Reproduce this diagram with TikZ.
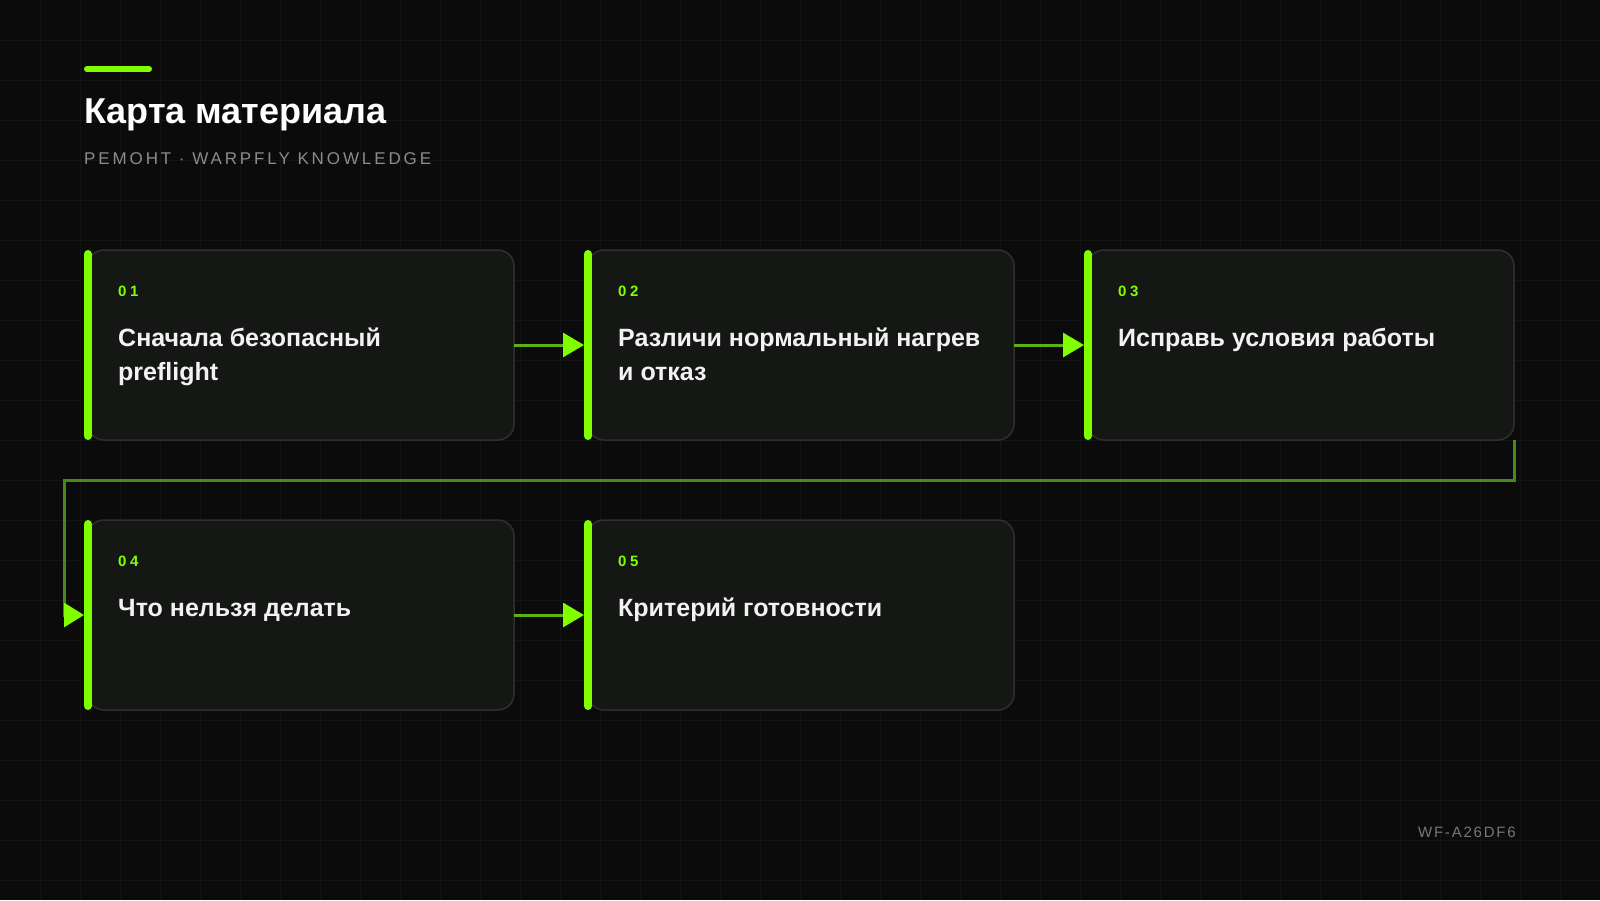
\documentclass[tikz,border=0pt]{standalone}
\usepackage{fontspec}
\setmainfont{Liberation Sans}
\newfontfamily\subfont[LetterSpace=17]{Liberation Sans}
\newfontfamily\numfont[LetterSpace=24]{Liberation Sans}
\newfontfamily\codefont[LetterSpace=12]{Liberation Sans}
\usetikzlibrary{arrows.meta}
\definecolor{bgc}{HTML}{0A0B0A}
\definecolor{gridc}{HTML}{121512}
\definecolor{boxfill}{HTML}{151715}
\definecolor{boxline}{HTML}{2D302D}
\definecolor{accent}{HTML}{80FF00}
\definecolor{flowc}{HTML}{5FB012}
\definecolor{loopc}{HTML}{4A8A14}
\definecolor{subc}{HTML}{8C8C8C}
\definecolor{txt}{HTML}{F2F2F2}
\tikzset{
  stepbox/.style={draw=boxline, line width=1.5pt, fill=boxfill, rounded corners=16pt,
    minimum width=426pt, minimum height=190pt, anchor=north west, inner sep=0pt, outer sep=0pt},
  accentbar/.style={draw=accent, line width=8pt, line cap=round},
  numlabel/.style={anchor=base west, inner sep=0pt, text=accent, font=\numfont\bfseries\fontsize{15}{18}\selectfont},
  steplabel/.style={anchor=base west, inner sep=0pt, text=txt, align=left, font=\bfseries\fontsize{25}{34}\selectfont},
  flow/.style={draw=flowc, line width=3pt, -{Triangle[length=21pt,width=24pt,color=accent]}},
  loopline/.style={draw=loopc, line width=3pt},
  looptip/.style={draw=loopc, line width=3pt, -{Triangle[length=20pt,width=24pt,color=accent]}},
}
\begin{document}
\begin{tikzpicture}[x=1pt,y=-1pt]
\fill[bgc] (0,0) rectangle (1600,900);
\useasboundingbox (0,0) rectangle (1600,900);
\foreach \gx in {40,80,...,1560} \draw[gridc, line width=1pt] (\gx,0) -- (\gx,900);
\foreach \gy in {40,80,...,880} \draw[gridc, line width=1pt] (0,\gy) -- (1600,\gy);

% header
\draw[accent, line width=6pt, line cap=round] (87,69) -- (149,69);
\node[anchor=base west, inner sep=0pt, text=white, font=\bfseries\fontsize{36}{40}\selectfont] (title) at (84,123) {Карта материала};
\node[anchor=base west, inner sep=0pt, text=subc, font=\subfont\fontsize{17}{20}\selectfont] (subtitle) at (84,164) {РЕМОНТ · WARPFLY KNOWLEDGE};
\node[anchor=base east, inner sep=0pt, text=subc!85!black, font=\codefont\fontsize{15}{18}\selectfont] (code) at (1516,837) {WF-A26DF6};

% boxes
\node[stepbox] (b1) at (88,250) {};
\node[stepbox] (b2) at (588,250) {};
\node[stepbox] (b3) at (1088,250) {};
\node[stepbox] (b4) at (88,520) {};
\node[stepbox] (b5) at (588,520) {};

\foreach \b in {b1,b2,b3,b4,b5}
  \draw[accentbar] ([yshift=-4pt]\b.north west) -- ([yshift=4pt]\b.south west);

\node[numlabel] (n1) at (118,296) {01};
\node[numlabel] (n2) at (618,296) {02};
\node[numlabel] (n3) at (1118,296) {03};
\node[numlabel] (n4) at (118,566) {04};
\node[numlabel] (n5) at (618,566) {05};

% two-line labels: base anchor is the last line's baseline
\node[steplabel] (t1) at (118,380) {Сначала безопасный\\preflight};
\node[steplabel] (t2) at (618,380) {Различи нормальный нагрев\\и отказ};
\node[steplabel] (t3) at (1118,346) {Исправь условия работы};
\node[steplabel] (t4) at (118,616) {Что нельзя делать};
\node[steplabel] (t5) at (618,616) {Критерий готовности};

% connectors
\draw[flow] (b1.east) -- ([xshift=-4pt]b2.west);
\draw[flow] (b2.east) -- ([xshift=-4pt]b3.west);
\draw[flow] (b4.east) -- ([xshift=-4pt]b5.west);
\draw[loopline] (b3.south east) -- ++(0,40) -| ([xshift=-24pt]b4.west);
\draw[looptip] ([xshift=-25pt]b4.west) -- ([xshift=-4pt]b4.west);
\end{tikzpicture}
\end{document}
